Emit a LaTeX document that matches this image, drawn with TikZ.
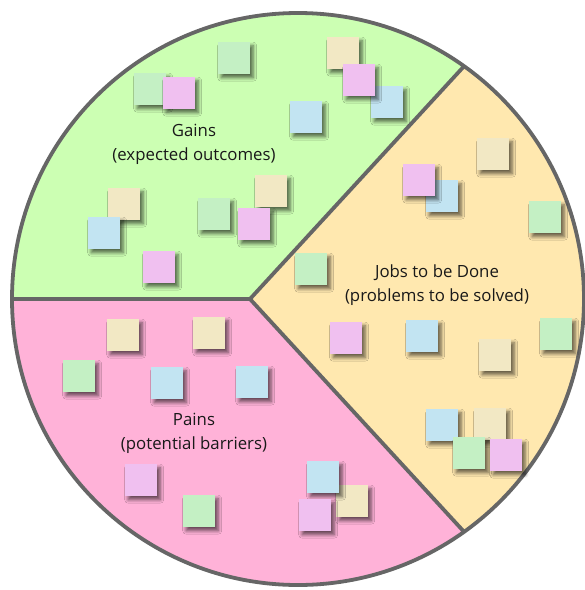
\documentclass[tikz,border=0pt]{standalone}
\usepackage{fontspec}
\setmainfont{Open Sans}
\usepackage{tikz}
\usetikzlibrary{shadows.blur}
\definecolor{gainsbg}{RGB}{204,255,179}
\definecolor{jobsbg}{RGB}{255,232,175}
\definecolor{painsbg}{RGB}{255,178,216}
\definecolor{rim}{RGB}{102,102,102}
\definecolor{mint}{RGB}{196,240,196}
\definecolor{lilac}{RGB}{240,192,240}
\definecolor{sky}{RGB}{194,228,242}
\definecolor{sand}{RGB}{242,232,196}
\tikzset{
  Rand/.style={draw=rim, line width=3.8pt, line join=miter}, % Kreis und Trennlinien
  Zettel/.style={anchor=north west, minimum size=32pt, inner sep=0pt,
    blur shadow={shadow xshift=3pt, shadow yshift=-3.5pt,
      shadow blur radius=3.5pt, shadow blur steps=6, shadow opacity=60}}, % Notizzettel
  Titel/.style={align=center, text=black!90, font=\fontsize{16.8}{24}\selectfont} % Beschriftung
}

\begin{document}
\begin{tikzpicture}[x=1pt, y=-1pt]
\useasboundingbox (0,0) rectangle (585,590);

%Mittelpunkt und Ecken
\coordinate (M) at (298,299);
\coordinate (Z) at (250,299);
\path (M) ++(180:286) coordinate (W);
\path (M) ++(-54.5:286) coordinate (NO);
\path (M) ++(54.5:286) coordinate (SO);

%Flaechen
\fill[gainsbg] (Z) -- (W) arc[start angle=180, end angle=305.5, radius=286] -- cycle;
\fill[jobsbg] (Z) -- (NO) arc[start angle=-54.5, end angle=54.5, radius=286] -- cycle;
\fill[painsbg] (Z) -- (SO) arc[start angle=54.5, end angle=180, radius=286] -- cycle;

%Rand
\draw[Rand] (M) circle[radius=286];
\draw[Rand] (W) -- (Z) -- (NO);
\draw[Rand] (Z) -- (SO);

%Zettel
\foreach \x/\y/\col [count=\i] in {
  218/42/mint, 134/73/mint, 163/77/lilac, 327/37/sand, 371/86/sky, 343/64/lilac,
  290/101/sky, 108/188/sand, 88/217/sky, 198/198/mint, 255/175/sand, 238/208/lilac,
  143/251/lilac,
  477/138/sand, 426/180/sky, 403/164/lilac, 529/201/mint, 295/253/mint,
  330/322/lilac, 406/320/sky, 479/339/sand, 540/318/mint,
  426/409/sky, 474/408/sand, 453/437/mint, 490/439/lilac,
  107/319/sand, 193/317/sand, 63/360/mint, 151/367/sky, 236/366/sky,
  125/464/lilac, 183/495/mint, 336/485/sand, 307/461/sky, 299/499/lilac}
  \node[Zettel, fill=\col] (z\i) at (\x,\y) {};

%Beschriftung
\node[Titel] (gains) at (194,144) {Gains\\(expected outcomes)};
\node[Titel] (jobs) at (437,285) {Jobs to be Done\\(problems to be solved)};
\node[Titel] (pains) at (194,433) {Pains\\(potential barriers)};

\end{tikzpicture}
\end{document}
